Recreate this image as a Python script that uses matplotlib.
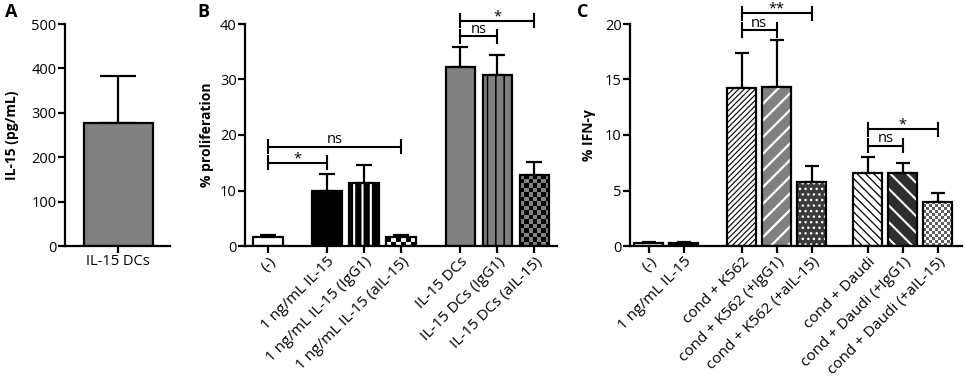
import matplotlib
matplotlib.use("Agg")
import matplotlib.pyplot as plt
import numpy as np
from matplotlib.colors import ListedColormap

plt.rcParams['font.family'] = ['Open Sans', 'DejaVu Sans']
plt.rcParams['font.size'] = 10
plt.rcParams['hatch.linewidth'] = 1.1

# panel A
a_labels = ['IL-15 DCs']
a_vals = [277]
a_err = [105]

# panel B
b_labels = ['(-)', '1 ng/mL IL-15', '1 ng/mL IL-15 (IgG1)', '1 ng/mL IL-15 (aIL-15)',
            'IL-15 DCs', 'IL-15 DCs (IgG1)', 'IL-15 DCs (aIL-15)']
b_pos = [0, 1.6, 2.6, 3.6, 5.2, 6.2, 7.2]
b_vals = [1.6, 10.0, 11.3, 1.6, 32.3, 30.8, 12.8]
b_err = [0.4, 3.0, 3.3, 0.3, 3.5, 3.6, 2.4]
b_sig = [(0, 1, 15.0, '*'), (0, 3, 17.9, 'ns'), (4, 5, 37.8, 'ns'), (4, 6, 40.6, '*')]

# panel C
c_labels = ['(-)', '1 ng/mL IL-15', 'cond + K562', 'cond + K562 (+IgG1)', 'cond + K562 (+aIL-15)',
            'cond + Daudi', 'cond + Daudi (+IgG1)', 'cond + Daudi (+aIL-15)']
c_pos = [0, 1, 2.65, 3.65, 4.65, 6.25, 7.25, 8.25]
c_vals = [0.3, 0.3, 14.2, 14.3, 5.8, 6.6, 6.55, 4.0]
c_err = [0.1, 0.1, 3.15, 4.25, 1.45, 1.45, 0.95, 0.8]
c_sig = [(2, 3, 19.45, 'ns'), (2, 4, 20.95, '**'), (5, 6, 9.04, 'ns'), (5, 7, 10.5, '*')]

W, H = 965, 378
fig = plt.figure(figsize=(W / 100, H / 100), dpi=100)


def px_axes(l, r, t=24, b=246):
    return fig.add_axes([l / W, 1 - b / H, (r - l) / W, (b - t) / H])


def style(ax, ylim, yticks, ylabel, lab_x):
    for s in ['top', 'right']:
        ax.spines[s].set_visible(False)
    for s in ['left', 'bottom']:
        ax.spines[s].set_linewidth(1.6)
    ax.set_ylim(*ylim)
    ax.set_yticks(yticks)
    ax.tick_params(width=1.6, length=5, pad=1, labelsize=10.5)
    ax.set_ylabel(ylabel, fontweight='bold', fontsize=10)
    ax.yaxis.set_label_coords(lab_x / W, 1 - 135 / H, transform=fig.transFigure)


def checker(ax, bar, cell, c1, c2):
    x0, y0 = bar.get_x(), bar.get_y()
    w, h = bar.get_width(), bar.get_height()
    p0 = ax.transData.transform((x0, y0))
    p1 = ax.transData.transform((x0 + w, y0 + h))
    nx = max(1, round((p1[0] - p0[0]) / cell))
    ny = max(1, round((p1[1] - p0[1]) / cell))
    grid = np.add.outer(np.arange(ny), np.arange(nx)) % 2
    im = ax.imshow(grid, extent=(x0, x0 + w, y0, y0 + h), cmap=ListedColormap([c1, c2]),
                   aspect='auto', interpolation='nearest', origin='lower', zorder=2.1)
    im.set_clip_path(bar)


def draw_bars(ax, pos, vals, err, styles, width, capsize):
    ax.errorbar(pos, vals, yerr=[np.zeros(len(err)), err], fmt='none', ecolor='k',
                elinewidth=1.6, capsize=capsize, capthick=1.6, zorder=1)
    bars = ax.bar(pos, vals, width=width, color='white', edgecolor='none', zorder=2)
    for bar, st in zip(bars, styles):
        kind = st[0]
        if kind == 'solid':
            bar.set_facecolor(st[1])
        elif kind == 'hatch':
            bar.set_facecolor(st[1])
            hb = ax.bar(bar.get_x() + bar.get_width() / 2, bar.get_height(), width=width,
                        color='none', edgecolor=st[2], hatch=st[3], linewidth=0, zorder=2.2)
            if len(st) > 4:
                for p in hb:
                    if hasattr(p, 'set_hatch_linewidth'):
                        p.set_hatch_linewidth(st[4])
        elif kind == 'check':
            checker(ax, bar, st[1], st[2], st[3])
    ax.bar(pos, vals, width=width, fill=False, edgecolor='k', linewidth=1.6, zorder=3)


def brackets(ax, pos, sig, dy):
    for i, j, y, txt in sig:
        x1, x2 = pos[i], pos[j]
        ax.plot([x1, x2], [y, y], color='k', lw=1.5, clip_on=False)
        ax.plot([x1, x1], [y - dy, y + dy], color='k', lw=1.5, clip_on=False)
        ax.plot([x2, x2], [y - dy, y + dy], color='k', lw=1.5, clip_on=False)
        off = 0.5 if '*' in txt else 2.5
        ax.annotate(txt, ((x1 + x2) / 2, y), xytext=(0, off), textcoords='offset points',
                    ha='center', va='baseline', fontsize=10.5, annotation_clip=False)


def xlabels(ax, pos, labels):
    ax.set_xticks(pos)
    ax.set_xticklabels(labels, rotation=45, ha='right', rotation_mode='anchor', fontsize=11)


# ---- A ----
axA = px_axes(65, 170)
axA.set_xlim(-0.77, 0.75)
style(axA, (0, 500), range(0, 501, 100), 'IL-15 (pg/mL)', 19)
draw_bars(axA, [0], a_vals, a_err, [('solid', '#808080')], 1.0, 13)
axA.set_xticks([0])
axA.set_xticklabels(a_labels, fontsize=10.5)
axA.set_xlim(-0.77, 0.75)
axA.set_ylim(0, 500)

# ---- B ----
axB = px_axes(245, 557)
axB.set_xlim(-0.62, 7.81)
style(axB, (0, 40), range(0, 41, 10), '% proliferation', 214)
b_styles = [('solid', 'white'), ('solid', 'black'), ('hatch', 'black', 'white', '||', 1.5),
            ('check', 5, 'white', 'black'), ('solid', '#808080'),
            ('hatch', '#808080', 'black', '||', 1.1), ('check', 4.5, 'black', '#808080')]
draw_bars(axB, b_pos, b_vals, b_err, b_styles, 0.8, 6)
axB.set_xlim(-0.62, 7.81)
axB.set_ylim(0, 40)
brackets(axB, b_pos, b_sig, 1.15)
xlabels(axB, b_pos, b_labels)

# ---- C ----
axC = px_axes(630, 962)
axC.set_xlim(-0.54, 8.94)
style(axC, (0, 20), range(0, 21, 5), '% IFN-\u03b3', 596)
c_styles = [('solid', 'white'), ('solid', 'black'), ('hatch', 'white', 'black', '//////', 0.8),
            ('hatch', '#808080', 'white', '//', 1.6), ('hatch', '#3a3a3a', 'white', '...', 1.0),
            ('hatch', 'white', 'black', '\\\\\\\\', 0.9), ('hatch', '#2e2e2e', 'white', '\\\\', 1.5),
            ('check', 3, 'white', '#606060')]
draw_bars(axC, c_pos, c_vals, c_err, c_styles, 0.83, 5)
axC.set_xlim(-0.54, 8.94)
axC.set_ylim(0, 20)
brackets(axC, c_pos, c_sig, 0.6)
xlabels(axC, c_pos, c_labels)

for letter, x in [('A', 5), ('B', 197), ('C', 577)]:
    fig.text(x / W, 1 - 3 / H, letter, fontsize=13, fontweight='bold', va='top', ha='left')

fig.savefig('out.png', dpi=100)
